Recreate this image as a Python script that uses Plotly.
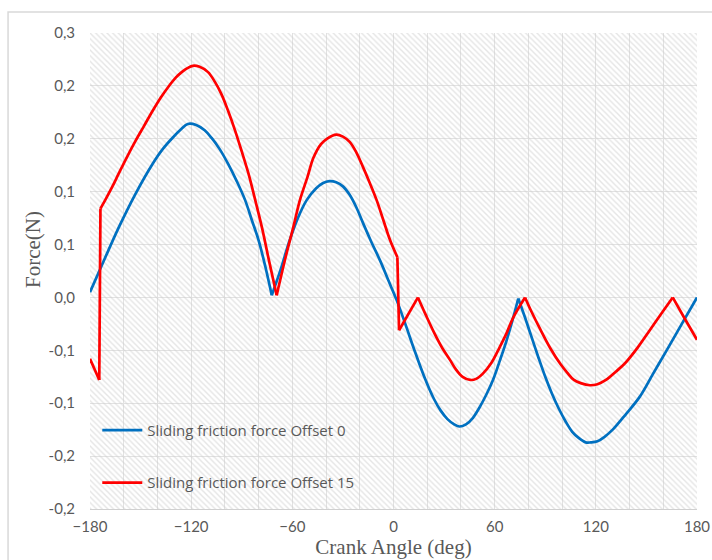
import plotly.graph_objects as go

# Crank angle (deg) and sliding friction force (N), offset 0
angle_offset0 = [-180, -172, -163, -153, -143, -137, -131, -126, -122, -117, -112, -108,
                 -103, -98, -93, -88, -84, -80, -76, -72.2, -67, -62, -57, -51.5, -46,
                 -42, -38, -34, -30, -26, -22, -18, -13, -8, -3, 2, 7, 12, 18, 24, 28,
                 32, 36, 39, 43, 47, 51, 55, 59, 63, 67, 70.5, 74, 78, 82, 86, 90, 94,
                 98, 102, 106, 110, 114, 117, 121, 125, 130, 138, 146, 154, 162, 171, 180]
force_offset0 = [0.005, 0.034, 0.066, 0.098, 0.126, 0.140, 0.151, 0.159, 0.164, 0.163,
                 0.158, 0.151, 0.140, 0.126, 0.110, 0.092, 0.073, 0.054, 0.029, 0.002,
                 0.026, 0.052, 0.074, 0.092, 0.103, 0.108, 0.110, 0.109, 0.105, 0.097,
                 0.085, 0.070, 0.052, 0.035, 0.016, -0.003, -0.025, -0.048, -0.074,
                 -0.096, -0.107, -0.115, -0.120, -0.122, -0.120, -0.114, -0.104, -0.092,
                 -0.078, -0.060, -0.041, -0.022, -0.001, -0.019, -0.038, -0.057, -0.075,
                 -0.091, -0.105, -0.117, -0.127, -0.133, -0.137, -0.137, -0.136, -0.132,
                 -0.125, -0.110, -0.094, -0.072, -0.050, -0.025, 0.000]
# Angles where the offset-0 curve has a sharp corner (direction reversal)
corners_offset0 = [-72.2, 74]

# Crank angle (deg) and sliding friction force (N), offset 15
angle_offset15 = [-180, -174.5, -173.8, -171, -167, -163, -158, -153, -148, -143, -138,
                  -133.6, -129, -125.6, -122, -119, -115, -110, -106, -102, -98, -94,
                  -90, -86, -82, -78, -74, -69.3, -64, -59.5, -55.5, -51, -47.5, -43,
                  -39.5, -34, -30, -26, -22, -18, -14, -10, -6, -2, 2.3, 3.3, 14.5, 19,
                  24, 29, 33.5, 37, 41, 45.5, 49, 53, 58, 63, 67, 71, 78, 82, 87, 93,
                  99, 103, 107, 111, 116.5, 121, 126, 132, 138, 145, 152, 159, 165.6,
                  172, 180]
force_offset15 = [-0.058, -0.078, 0.084, 0.092, 0.104, 0.117, 0.133, 0.148, 0.162, 0.176,
                  0.189, 0.199, 0.208, 0.213, 0.217, 0.219, 0.218, 0.213, 0.204, 0.192,
                  0.176, 0.158, 0.138, 0.117, 0.092, 0.066, 0.036, 0.002, 0.038, 0.066,
                  0.092, 0.114, 0.132, 0.145, 0.150, 0.154, 0.152, 0.147, 0.137, 0.123,
                  0.108, 0.092, 0.073, 0.054, 0.038, -0.031, 0.000, -0.016, -0.033,
                  -0.048, -0.059, -0.068, -0.075, -0.078, -0.077, -0.072, -0.062, -0.047,
                  -0.034, -0.019, 0.000, -0.014, -0.030, -0.048, -0.063, -0.071, -0.078,
                  -0.081, -0.083, -0.082, -0.078, -0.070, -0.061, -0.047, -0.031, -0.015,
                  0.000, -0.018, -0.040]
# Angles where the offset-15 curve has a sharp corner or a jump
corners_offset15 = [-174.5, -173.8, -69.3, 2.3, 3.3, 14.5, 78, 165.6]

series_names = ["Sliding friction force Offset 0", "Sliding friction force Offset 15"]
series_colors = ["#0070C0", "#FF0000"]

x_range = [-180, 180]
x_ticks = [-180, -120, -60, 0, 60, 120, 180]
y_range = [-0.2, 0.25]
y_ticks = [-0.2, -0.15, -0.1, -0.05, 0.0, 0.05, 0.1, 0.15, 0.2, 0.25]
y_ticktext = ["-0,2", "-0,2", "-0,1", "-0,1", "0,0", "0,1", "0,1", "0,2", "0,2", "0,3"]

label_color = "#595959"
grid_color = "#e2e2e2"
tick_font = dict(family="Lato", size=15, color=label_color)
title_font = dict(family="Liberation Serif", size=21, color=label_color)


def split_at(xs, ys, corners):
    """Split a polyline into pieces that meet at the given corner angles,
    so each piece can be smoothed without rounding off the corners."""
    pieces, cur_x, cur_y = [], [], []
    for x, y in zip(xs, ys):
        cur_x.append(x)
        cur_y.append(y)
        if x in corners:
            pieces.append((cur_x, cur_y))
            cur_x, cur_y = [x], [y]
    if len(cur_x) > 1:
        pieces.append((cur_x, cur_y))
    return pieces


fig = go.Figure()

# Hatched plot-area background
fig.add_trace(go.Scatter(
    x=[x_range[0], x_range[1], x_range[1], x_range[0], x_range[0]],
    y=[y_range[0], y_range[0], y_range[1], y_range[1], y_range[0]],
    mode="none", fill="toself", fillcolor="rgba(0,0,0,0)",
    fillpattern=dict(shape="\\", size=4, solidity=0.35, fgcolor="#cbcbcb",
                     bgcolor="rgba(0,0,0,0)"),
    showlegend=False, hoverinfo="skip",
))

series = [(angle_offset0, force_offset0, corners_offset0),
          (angle_offset15, force_offset15, corners_offset15)]
for i, (xs, ys, corners) in enumerate(series):
    for j, (px, py) in enumerate(split_at(xs, ys, corners)):
        fig.add_trace(go.Scatter(
            x=px, y=py, mode="lines", name=series_names[i],
            legendgroup=f"g{i}", showlegend=(j == 0),
            line=dict(color=series_colors[i], width=2.7, shape="spline",
                      smoothing=1.0),
        ))

fig.update_xaxes(
    range=x_range, tickmode="array", tickvals=x_ticks,
    showgrid=True, gridcolor=grid_color, gridwidth=1,
    minor=dict(tickmode="linear", tick0=-180, dtick=20, showgrid=True,
               gridcolor=grid_color, gridwidth=1),
    zeroline=False, showline=True, linecolor="#d0d0d0", linewidth=1,
    ticks="", tickfont=tick_font, ticklabelstandoff=4, automargin=False,
    title=dict(text="Crank Angle (deg)", standoff=1, font=title_font),
)
fig.update_yaxes(
    range=y_range, tickmode="array", tickvals=y_ticks, ticktext=y_ticktext,
    showgrid=True, gridcolor=grid_color, gridwidth=1,
    zeroline=False, showline=False, automargin=False,
    ticks="", tickfont=tick_font, ticklabelstandoff=14,
)

fig.update_layout(
    width=712, height=560,
    margin=dict(l=90, r=15, t=33, b=51),
    plot_bgcolor="white", paper_bgcolor="white",
    legend=dict(x=0.012, y=0.2, xanchor="left", yanchor="top",
                bgcolor="rgba(0,0,0,0)", tracegroupgap=30, itemwidth=40,
                font=dict(family="Open Sans", size=15, color=label_color)),
    annotations=[dict(text="Force(N)", textangle=-90, font=title_font,
                      xref="paper", yref="paper", x=-0.094, y=0.546,
                      xanchor="center", yanchor="middle", showarrow=False)],
    shapes=[dict(type="rect", xref="paper", yref="paper",
                 x0=-0.135, x1=1.05, y0=-0.25, y1=1.044,
                 line=dict(color="#d9d9d9", width=1.5), layer="below")],
)

fig.write_html("out.html")
